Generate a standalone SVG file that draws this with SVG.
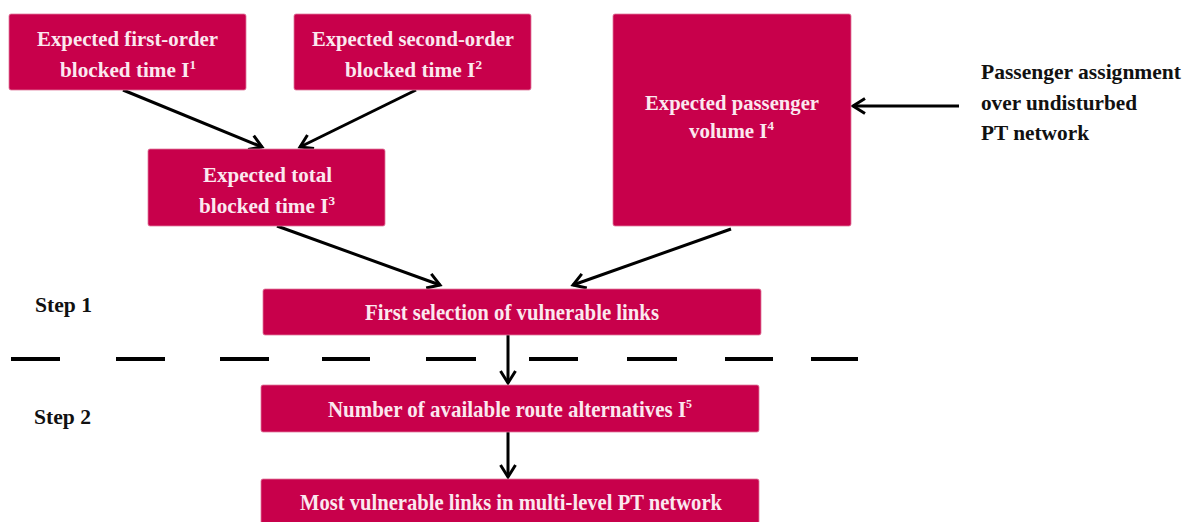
<svg xmlns="http://www.w3.org/2000/svg" width="1192" height="522" viewBox="0 0 1192 522">
  <style>
    .box { fill: #c8004b; stroke: #e07a9d; stroke-width: 0.8; }
    .lbl { font-family: "Liberation Serif", "Times New Roman", serif; font-weight: bold; font-size: 21px; fill: #fbe8ef; }
    .tall { font-size: 23px; }
    .side { font-family: "Liberation Serif", "Times New Roman", serif; font-weight: bold; font-size: 21px; fill: #111; }
    .sup { font-size: 13px; }
    .conn { stroke: #000; stroke-width: 3; fill: none; marker-end: url(#arrow); }
    .dash { stroke: #000; stroke-width: 4; }
  </style>
  <defs>
    <marker id="arrow" markerUnits="userSpaceOnUse" markerWidth="20" markerHeight="20" refX="14" refY="9" orient="auto">
      <path d="M2,1.5 L14,9 L2,16.5" fill="none" stroke="#000" stroke-width="3"/>
    </marker>
  </defs>
  <rect width="1192" height="522" fill="#fff"/>

  <g id="connectors">
    <line class="conn" x1="123" y1="90" x2="262" y2="147"/>
    <line class="conn" x1="416" y1="90" x2="300" y2="147"/>
    <line class="conn" x1="277" y1="226" x2="440" y2="285"/>
    <line class="conn" x1="731" y1="229" x2="573" y2="285"/>
    <line class="conn" x1="959" y1="106" x2="853" y2="106"/>
    <line class="conn" x1="508" y1="335" x2="508" y2="383"/>
    <line class="conn" x1="508" y1="432" x2="508" y2="477"/>
  </g>

  <g id="step-divider">
    <line class="dash" x1="11" y1="359" x2="60" y2="359"/>
    <line class="dash" x1="116" y1="359" x2="165" y2="359"/>
    <line class="dash" x1="220" y1="359" x2="269" y2="359"/>
    <line class="dash" x1="322" y1="359" x2="370" y2="359"/>
    <line class="dash" x1="426" y1="359" x2="476" y2="359"/>
    <line class="dash" x1="529" y1="359" x2="578" y2="359"/>
    <line class="dash" x1="627" y1="359" x2="677" y2="359"/>
    <line class="dash" x1="725" y1="359" x2="773" y2="359"/>
    <line class="dash" x1="811" y1="359" x2="858" y2="359"/>
  </g>

  <g id="first-order">
    <rect class="box" x="9" y="14" width="237" height="76" rx="2"/>
    <text class="lbl" x="37" y="46" textLength="181" lengthAdjust="spacingAndGlyphs">Expected first-order</text>
    <text class="lbl" x="60" y="77" textLength="136" lengthAdjust="spacingAndGlyphs">blocked time I<tspan class="sup" dy="-8">1</tspan></text>
  </g>

  <g id="second-order">
    <rect class="box" x="294" y="14" width="237" height="76" rx="2"/>
    <text class="lbl" x="312" y="46" textLength="202" lengthAdjust="spacingAndGlyphs">Expected second-order</text>
    <text class="lbl" x="345" y="77" textLength="137" lengthAdjust="spacingAndGlyphs">blocked time I<tspan class="sup" dy="-8">2</tspan></text>
  </g>

  <g id="total-blocked">
    <rect class="box" x="148" y="149" width="237" height="77" rx="2"/>
    <text class="lbl" x="203" y="182" textLength="129" lengthAdjust="spacingAndGlyphs">Expected total</text>
    <text class="lbl" x="199" y="213" textLength="136" lengthAdjust="spacingAndGlyphs">blocked time I<tspan class="sup" dy="-8">3</tspan></text>
  </g>

  <g id="passenger-volume">
    <rect class="box" x="613" y="14" width="238" height="212" rx="2"/>
    <text class="lbl" x="645" y="110" textLength="174" lengthAdjust="spacingAndGlyphs">Expected passenger</text>
    <text class="lbl" x="689" y="138" textLength="85" lengthAdjust="spacingAndGlyphs">volume I<tspan class="sup" dy="-8">4</tspan></text>
  </g>

  <g id="assignment-note">
    <text class="side" x="981" y="79" textLength="200" lengthAdjust="spacingAndGlyphs">Passenger assignment</text>
    <text class="side" x="981" y="110" textLength="156" lengthAdjust="spacingAndGlyphs">over undisturbed</text>
    <text class="side" x="981" y="140" textLength="108" lengthAdjust="spacingAndGlyphs">PT network</text>
  </g>

  <g id="first-selection">
    <rect class="box" x="263" y="289" width="498" height="46" rx="2"/>
    <text class="lbl tall" x="365" y="320" textLength="294" lengthAdjust="spacingAndGlyphs">First selection of vulnerable links</text>
  </g>

  <g id="route-alternatives">
    <rect class="box" x="261" y="385" width="498" height="47" rx="2"/>
    <text class="lbl tall" x="328" y="417" textLength="364" lengthAdjust="spacingAndGlyphs">Number of available route alternatives I<tspan class="sup" dy="-9">5</tspan></text>
  </g>

  <g id="most-vulnerable">
    <rect class="box" x="261" y="479" width="498" height="50" rx="2"/>
    <text class="lbl tall" x="300" y="510" textLength="422" lengthAdjust="spacingAndGlyphs">Most vulnerable links in multi-level PT network</text>
  </g>

  <g id="step-labels">
    <text class="side" x="35" y="312" textLength="57" lengthAdjust="spacingAndGlyphs">Step 1</text>
    <text class="side" x="34" y="424" textLength="57" lengthAdjust="spacingAndGlyphs">Step 2</text>
  </g>
</svg>
